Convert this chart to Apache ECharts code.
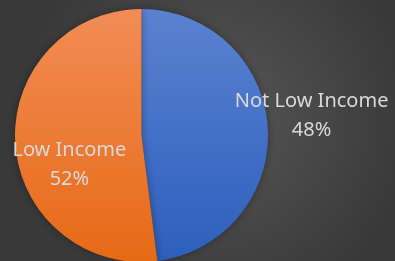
<!DOCTYPE html>
<html>
<head>
<meta charset="utf-8">
<script src="https://cdn.jsdelivr.net/npm/echarts@6/dist/echarts.min.js"></script>
<style>
html,body{margin:0;padding:0;background:#404040;}
#c{width:395px;height:261px;}
</style>
</head>
<body>
<div id="c"></div>
<script>
var categories = ['Not Low Income', 'Low Income'];
var values = [48, 52];

var chart = echarts.init(document.getElementById('c'), null, {renderer: 'canvas'});
var grads = [
  new echarts.graphic.LinearGradient(0, 0, 0, 1, [{offset: 0, color: '#5b82d0'}, {offset: 1, color: '#2c5fbd'}]),
  new echarts.graphic.LinearGradient(0, 0, 0, 1, [{offset: 0, color: '#f28c56'}, {offset: 1, color: '#e66a15'}])
];
var labelShift = [[104, -16], [-6, 25]];
chart.setOption({
  backgroundColor: {
    type: 'radial', x: 0.55, y: 0.45, r: 0.75,
    colorStops: [{offset: 0, color: '#575757'}, {offset: 1, color: '#393939'}]
  },
  animation: false,
  series: [{
    type: 'pie',
    center: [141.5, 135.5],
    radius: 126.5,
    startAngle: 90,
    clockwise: true,
    data: categories.map(function (c, i) {
      return {name: c, value: values[i], itemStyle: {color: grads[i]}};
    }),
    itemStyle: {
      shadowBlur: 8,
      shadowColor: 'rgba(0,0,0,0.35)'
    },
    label: {
      show: true,
      position: 'inside',
      formatter: '{b}\n{d}%',
      color: '#d9d9d9',
      fontFamily: 'Noto Sans',
      fontSize: 20,
      lineHeight: 29,
      align: 'center',
      verticalAlign: 'middle'
    },
    labelLine: {show: false},
    labelLayout: function (p) {
      var s = labelShift[p.dataIndex];
      var r = p.labelRect;
      return {
        x: r.x + r.width / 2 + s[0],
        y: r.y + r.height / 2 + s[1],
        align: 'center',
        verticalAlign: 'middle'
      };
    },
    emphasis: {disabled: true}
  }]
});
</script>
</body>
</html>
